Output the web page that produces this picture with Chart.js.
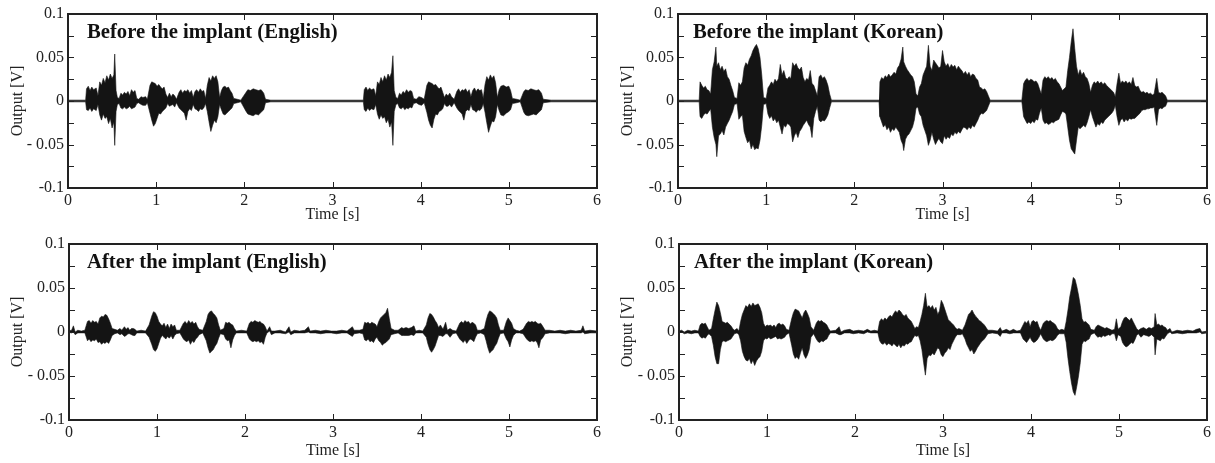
<!DOCTYPE html>
<html><head><meta charset="utf-8">
<script src="https://cdn.jsdelivr.net/npm/chart.js@4.4.1/dist/chart.umd.min.js"></script>
<style>
html,body{margin:0;padding:0;background:#fff;width:1215px;height:463px;overflow:hidden;}
canvas{position:absolute;}
</style></head><body>
<canvas id="c0" width="605" height="225" style="left:0px;top:0px"></canvas>
<canvas id="c1" width="605" height="225" style="left:610px;top:0px"></canvas>
<canvas id="c2" width="605" height="235" style="left:0px;top:228px"></canvas>
<canvas id="c3" width="605" height="235" style="left:610px;top:228px"></canvas>
<script>
// ---------- labels ----------
const panelTitles = ['Before the implant (English)', 'Before the implant (Korean)', 'After the implant (English)', 'After the implant (Korean)'];
const xAxisTitle = 'Time [s]';
const yAxisTitle = 'Output [V]';
const xTicks = [0, 1, 2, 3, 4, 5, 6];
const yTicks = [-0.1, -0.075, -0.05, -0.025, 0, 0.025, 0.05, 0.075, 0.1];
const yTickLabels = ['-0.1', '', '- 0.05', '', '0', '', '0.05', '', '0.1'];

// ---------- waveform envelopes: [time s, upper V, lower V] ----------
const beforeEnglish = [
[0,.001,-.001],[.2,.001,-.001],[.21,.014,-.010],[.23,.017,-.011],[.25,.012,-.008],[.27,.016,-.012],[.29,.013,-.009],[.32,.015,-.011],[.34,.006,-.004],[.36,.022,-.016],[.38,.018,-.022],[.40,.026,-.015],[.42,.021,-.020],[.44,.029,-.018],[.46,.024,-.026],[.48,.031,-.020],[.50,.026,-.031],[.52,.030,-.024],[.53,.054,-.051],[.545,.012,-.012],[.56,.004,-.004],[.58,.003,-.003],[.60,.009,-.008],[.62,.007,-.009],[.64,.010,-.007],[.66,.008,-.009],[.68,.011,-.008],[.70,.006,-.006],[.72,.013,-.009],[.74,.010,-.008],[.76,.012,-.007],[.78,.003,-.003],[.80,.002,-.002],[.83,.005,-.004],[.85,.004,-.005],[.88,.005,-.005],[.90,.002,-.002],[.93,.018,-.014],[.95,.022,-.022],[.97,.021,-.029],[.99,.020,-.026],[1.01,.017,-.020],[1.03,.019,-.014],[1.05,.016,-.015],[1.07,.014,-.012],[1.09,.016,-.010],[1.11,.008,-.008],[1.13,.004,-.003],[1.15,.009,-.006],[1.17,.005,-.005],[1.19,.008,-.004],[1.21,.006,-.007],[1.23,.002,-.002],[1.26,.010,-.008],[1.28,.013,-.010],[1.30,.009,-.012],[1.32,.012,-.014],[1.34,.011,-.022],[1.36,.013,-.012],[1.38,.009,-.009],[1.40,.012,-.011],[1.42,.004,-.004],[1.44,.011,-.009],[1.46,.013,-.010],[1.48,.010,-.012],[1.50,.014,-.009],[1.52,.011,-.010],[1.54,.012,-.008],[1.56,.003,-.003],[1.58,.018,-.012],[1.60,.027,-.024],[1.62,.023,-.035],[1.64,.029,-.028],[1.66,.026,-.022],[1.68,.029,-.025],[1.70,.022,-.018],[1.72,.004,-.004],[1.74,.012,-.010],[1.76,.016,-.015],[1.78,.017,-.016],[1.80,.015,-.014],[1.82,.016,-.012],[1.84,.012,-.010],[1.86,.009,-.008],[1.88,.003,-.003],[1.92,.002,-.002],[1.96,.001,-.001],[2.02,.010,-.012],[2.04,.013,-.015],[2.07,.012,-.016],[2.10,.014,-.017],[2.13,.013,-.015],[2.16,.012,-.016],[2.19,.013,-.013],[2.22,.009,-.010],[2.24,.002,-.002],[2.30,.001,-.001],
[3.35,.001,-.001],[3.36,.013,-.010],[3.38,.016,-.012],[3.40,.012,-.008],[3.42,.015,-.011],[3.44,.013,-.009],[3.47,.014,-.010],[3.49,.006,-.004],[3.51,.022,-.015],[3.53,.019,-.021],[3.55,.027,-.016],[3.57,.022,-.020],[3.59,.029,-.018],[3.61,.024,-.025],[3.63,.031,-.021],[3.65,.027,-.030],[3.67,.033,-.024],[3.685,.052,-.051],[3.70,.012,-.012],[3.72,.004,-.004],[3.74,.003,-.003],[3.76,.009,-.008],[3.78,.007,-.009],[3.80,.011,-.007],[3.82,.009,-.010],[3.84,.013,-.008],[3.86,.010,-.009],[3.88,.012,-.007],[3.90,.011,-.008],[3.92,.003,-.003],[3.95,.002,-.002],[3.98,.005,-.004],[4.01,.004,-.005],[4.04,.002,-.002],[4.07,.018,-.013],[4.09,.022,-.022],[4.11,.021,-.028],[4.13,.020,-.031],[4.15,.018,-.021],[4.17,.019,-.015],[4.19,.016,-.016],[4.21,.014,-.012],[4.23,.016,-.011],[4.25,.010,-.009],[4.27,.004,-.003],[4.29,.008,-.006],[4.31,.006,-.006],[4.33,.009,-.004],[4.35,.005,-.007],[4.38,.002,-.002],[4.41,.011,-.008],[4.43,.014,-.011],[4.45,.010,-.013],[4.47,.013,-.015],[4.49,.012,-.022],[4.51,.014,-.012],[4.53,.010,-.010],[4.55,.013,-.011],[4.57,.005,-.004],[4.59,.012,-.010],[4.61,.015,-.011],[4.63,.011,-.013],[4.65,.014,-.010],[4.67,.012,-.011],[4.69,.013,-.009],[4.71,.003,-.003],[4.73,.019,-.013],[4.75,.028,-.025],[4.77,.024,-.036],[4.79,.030,-.029],[4.81,.026,-.023],[4.83,.029,-.024],[4.85,.021,-.018],[4.87,.004,-.004],[4.89,.013,-.011],[4.91,.017,-.016],[4.94,.018,-.017],[4.97,.016,-.014],[5.00,.017,-.012],[5.02,.012,-.010],[5.04,.003,-.003],[5.09,.002,-.002],[5.13,.001,-.001],[5.17,.011,-.013],[5.19,.013,-.016],[5.22,.012,-.017],[5.25,.014,-.016],[5.28,.013,-.015],[5.31,.012,-.016],[5.34,.013,-.013],[5.37,.009,-.010],[5.39,.002,-.002],[5.48,.001,-.001],[6,.001,-.001]
];

const beforeKorean = [
[0,.001,-.001],[.24,.001,-.001],[.25,.022,-.018],[.27,.018,-.020],[.29,.015,-.016],[.31,.017,-.014],[.33,.013,-.015],[.35,.012,-.012],[.37,.008,-.009],[.39,.036,-.030],[.41,.045,-.042],[.43,.062,-.050],[.44,.040,-.064],[.46,.044,-.040],[.48,.036,-.038],[.50,.040,-.034],[.52,.034,-.039],[.54,.037,-.030],[.56,.028,-.026],[.58,.025,-.022],[.60,.018,-.017],[.62,.012,-.012],[.64,.004,-.004],[.67,.003,-.003],[.69,.021,-.021],[.71,.018,-.018],[.73,.022,-.016],[.75,.038,-.035],[.77,.044,-.042],[.79,.041,-.048],[.81,.048,-.045],[.83,.052,-.055],[.85,.058,-.050],[.87,.062,-.056],[.89,.065,-.054],[.91,.060,-.055],[.93,.050,-.045],[.95,.030,-.028],[.97,.004,-.004],[1.00,.003,-.003],[1.02,.015,-.015],[1.04,.018,-.020],[1.06,.022,-.017],[1.08,.019,-.023],[1.10,.025,-.020],[1.12,.022,-.025],[1.14,.026,-.022],[1.16,.042,-.030],[1.18,.030,-.038],[1.20,.035,-.028],[1.22,.027,-.030],[1.24,.025,-.026],[1.26,.028,-.027],[1.28,.026,-.030],[1.30,.044,-.047],[1.32,.040,-.040],[1.34,.043,-.036],[1.36,.038,-.042],[1.38,.036,-.035],[1.40,.039,-.032],[1.42,.027,-.028],[1.44,.022,-.025],[1.46,.026,-.022],[1.48,.024,-.027],[1.50,.035,-.030],[1.52,.020,-.042],[1.54,.018,-.020],[1.56,.012,-.012],[1.58,.006,-.006],[1.60,.028,-.022],[1.62,.030,-.024],[1.64,.026,-.022],[1.66,.028,-.023],[1.68,.024,-.020],[1.70,.018,-.016],[1.72,.008,-.008],[1.74,.001,-.001],
[2.28,.001,-.001],[2.29,.022,-.018],[2.31,.027,-.024],[2.33,.025,-.030],[2.35,.029,-.027],[2.37,.027,-.033],[2.39,.031,-.030],[2.41,.028,-.036],[2.43,.030,-.032],[2.45,.033,-.034],[2.47,.031,-.030],[2.49,.038,-.033],[2.51,.041,-.036],[2.53,.048,-.045],[2.55,.062,-.050],[2.56,.045,-.057],[2.58,.040,-.044],[2.60,.036,-.040],[2.62,.033,-.038],[2.64,.030,-.034],[2.66,.028,-.030],[2.68,.022,-.022],[2.70,.008,-.008],[2.72,.006,-.007],[2.74,.016,-.015],[2.76,.020,-.018],[2.78,.030,-.028],[2.80,.035,-.034],[2.82,.040,-.040],[2.84,.064,-.051],[2.86,.040,-.045],[2.88,.035,-.036],[2.90,.047,-.044],[2.92,.044,-.050],[2.94,.041,-.046],[2.96,.038,-.043],[2.98,.040,-.047],[3.00,.058,-.049],[3.02,.045,-.040],[3.04,.040,-.044],[3.06,.043,-.041],[3.08,.038,-.043],[3.10,.042,-.038],[3.12,.039,-.040],[3.14,.041,-.036],[3.16,.036,-.038],[3.18,.040,-.035],[3.20,.037,-.037],[3.22,.035,-.033],[3.24,.031,-.030],[3.26,.034,-.031],[3.28,.030,-.033],[3.30,.033,-.030],[3.32,.028,-.032],[3.34,.031,-.028],[3.36,.030,-.030],[3.38,.026,-.026],[3.40,.024,-.022],[3.42,.016,-.017],[3.44,.015,-.014],[3.46,.013,-.015],[3.48,.014,-.013],[3.50,.011,-.011],[3.52,.006,-.006],[3.54,.001,-.001],
[3.90,.001,-.001],[3.92,.020,-.018],[3.94,.024,-.022],[3.96,.026,-.026],[3.98,.023,-.024],[4.00,.025,-.026],[4.02,.024,-.023],[4.04,.022,-.025],[4.06,.023,-.021],[4.08,.020,-.022],[4.10,.014,-.014],[4.12,.008,-.008],[4.14,.024,-.022],[4.16,.028,-.026],[4.18,.026,-.025],[4.20,.028,-.027],[4.22,.025,-.026],[4.24,.027,-.024],[4.26,.024,-.025],[4.28,.026,-.023],[4.30,.022,-.022],[4.32,.020,-.021],[4.34,.016,-.016],[4.36,.012,-.012],[4.38,.014,-.013],[4.40,.016,-.015],[4.42,.035,-.030],[4.44,.050,-.045],[4.46,.068,-.055],[4.48,.083,-.058],[4.50,.060,-.061],[4.52,.040,-.045],[4.54,.030,-.030],[4.56,.036,-.032],[4.58,.030,-.030],[4.60,.033,-.028],[4.62,.028,-.030],[4.64,.026,-.025],[4.66,.020,-.018],[4.68,.010,-.010],[4.70,.018,-.018],[4.72,.022,-.024],[4.74,.020,-.030],[4.76,.023,-.026],[4.78,.020,-.028],[4.80,.022,-.024],[4.82,.019,-.026],[4.84,.021,-.022],[4.86,.018,-.020],[4.88,.016,-.018],[4.90,.014,-.016],[4.92,.012,-.014],[4.94,.010,-.011],[4.96,.005,-.005],[4.98,.020,-.018],[5.00,.032,-.028],[5.02,.020,-.022],[5.04,.023,-.020],[5.06,.021,-.024],[5.08,.023,-.021],[5.10,.020,-.023],[5.12,.022,-.020],[5.14,.019,-.021],[5.16,.027,-.020],[5.18,.018,-.020],[5.20,.016,-.018],[5.22,.017,-.016],[5.24,.012,-.014],[5.26,.010,-.011],[5.28,.011,-.010],[5.30,.009,-.010],[5.32,.010,-.009],[5.34,.008,-.009],[5.36,.009,-.008],[5.38,.007,-.008],[5.40,.008,-.007],[5.43,.026,-.028],[5.45,.010,-.010],[5.47,.009,-.008],[5.49,.010,-.009],[5.51,.008,-.007],[5.53,.006,-.006],[5.55,.001,-.001],[6,.001,-.001]
];

const afterEnglish = [
[0,.0015,-.0005],[.03,.002,-.001],[.05,.007,0],[.07,0,-.003],[.10,.002,-.001],[.14,.001,-.001],[.18,.002,-.001],[.21,.012,-.010],[.23,.013,-.008],[.25,.010,-.011],[.27,.013,-.009],[.29,.011,-.010],[.31,.012,-.008],[.33,.009,-.012],[.35,.016,-.011],[.37,.018,-.014],[.39,.017,-.012],[.41,.020,-.013],[.43,.019,-.011],[.45,.015,-.013],[.47,.010,-.009],[.49,.004,-.004],[.52,.003,-.002],[.55,.002,-.001],[.58,.004,-.003],[.60,.002,-.002],[.63,.006,-.005],[.65,.003,-.004],[.67,.005,-.002],[.69,.002,-.002],[.71,.004,-.003],[.73,.004,-.004],[.75,.003,-.004],[.77,.001,-.001],[.82,.002,-.001],[.87,.001,-.001],[.91,.008,-.006],[.94,.018,-.014],[.96,.023,-.020],[.98,.022,-.022],[1.00,.018,-.019],[1.02,.012,-.013],[1.04,.009,-.007],[1.06,.007,-.004],[1.08,.010,-.006],[1.10,.005,-.008],[1.12,.009,-.005],[1.14,.004,-.007],[1.16,.009,-.004],[1.18,.006,-.008],[1.20,.008,-.004],[1.22,.002,-.002],[1.26,.002,-.001],[1.30,.010,-.008],[1.32,.012,-.010],[1.34,.009,-.011],[1.36,.013,-.009],[1.38,.010,-.014],[1.40,.012,-.010],[1.42,.009,-.012],[1.44,.011,-.008],[1.46,.006,-.006],[1.48,.003,-.003],[1.52,.002,-.001],[1.56,.012,-.010],[1.58,.020,-.018],[1.60,.023,-.024],[1.62,.024,-.022],[1.64,.021,-.020],[1.66,.019,-.016],[1.68,.016,-.013],[1.70,.008,-.007],[1.72,.002,-.002],[1.76,.004,-.003],[1.78,.011,-.008],[1.80,.010,-.010],[1.82,.011,-.009],[1.84,.009,-.018],[1.86,.008,-.009],[1.88,.004,-.004],[1.90,.001,-.001],[1.96,.002,-.001],[2.02,.001,-.001],[2.05,.010,-.008],[2.07,.012,-.010],[2.09,.011,-.011],[2.11,.013,-.010],[2.13,.012,-.011],[2.15,.011,-.010],[2.17,.012,-.012],[2.19,.010,-.011],[2.21,.009,-.014],[2.23,.006,-.006],[2.25,.001,-.001],[2.28,.006,.001],[2.30,.001,-.003],[2.34,.001,-.001],[2.40,.002,-.001],[2.46,0,-.002],[2.50,.006,0],[2.52,0,-.003],[2.56,.002,-.001],[2.62,.001,-.001],[2.68,.002,-.001],[2.72,.006,0],[2.74,.001,-.001],[2.80,.002,-.001],[2.86,.001,-.002],[2.92,.002,-.001],[2.98,.001,-.001],[3.04,.001,-.002],[3.10,.002,-.001],[3.16,.001,-.001],[3.22,.006,-.005],[3.24,.002,-.002],[3.30,.002,-.001],[3.34,.003,-.002],[3.36,.011,-.009],[3.38,.010,-.010],[3.40,.011,-.008],[3.42,.009,-.011],[3.44,.011,-.010],[3.46,.010,-.012],[3.48,.009,-.008],[3.50,.006,-.006],[3.52,.012,-.010],[3.54,.016,-.012],[3.56,.018,-.015],[3.58,.020,-.013],[3.60,.022,-.012],[3.62,.027,-.010],[3.64,.015,-.008],[3.66,.004,-.003],[3.70,.002,-.002],[3.74,.002,-.001],[3.78,.005,-.004],[3.80,.004,-.004],[3.83,.005,-.004],[3.86,.004,-.004],[3.89,.005,-.003],[3.92,.007,-.004],[3.94,.001,-.001],[3.98,.002,-.001],[4.02,.001,-.001],[4.06,.008,-.006],[4.08,.016,-.014],[4.10,.021,-.020],[4.12,.020,-.023],[4.14,.017,-.020],[4.16,.013,-.016],[4.18,.010,-.010],[4.20,.005,-.004],[4.22,.008,-.004],[4.25,.003,-.005],[4.28,.011,-.002],[4.30,.002,-.002],[4.33,.004,-.006],[4.36,.002,-.002],[4.40,.001,-.001],[4.44,.010,-.008],[4.46,.012,-.010],[4.48,.010,-.012],[4.50,.013,-.009],[4.52,.011,-.013],[4.54,.012,-.010],[4.56,.009,-.008],[4.58,.011,-.009],[4.60,.010,-.011],[4.62,.008,-.006],[4.64,.002,-.002],[4.68,.002,-.001],[4.72,.004,-.003],[4.74,.013,-.010],[4.76,.020,-.018],[4.78,.024,-.024],[4.80,.023,-.022],[4.82,.021,-.020],[4.84,.019,-.016],[4.86,.016,-.013],[4.88,.008,-.007],[4.90,.002,-.002],[4.94,.002,-.001],[4.97,.012,-.008],[4.99,.016,-.011],[5.01,.013,-.017],[5.03,.010,-.009],[5.05,.004,-.004],[5.08,.002,-.001],[5.12,.001,-.001],[5.16,.003,-.002],[5.20,.010,-.008],[5.22,.012,-.010],[5.24,.011,-.011],[5.26,.012,-.010],[5.28,.011,-.011],[5.30,.012,-.010],[5.32,.010,-.012],[5.34,.009,-.018],[5.36,.010,-.009],[5.38,.007,-.007],[5.41,.002,-.002],[5.46,.002,-.001],[5.52,.001,-.001],[5.58,.002,-.001],[5.64,.001,-.002],[5.70,.002,-.001],[5.76,.001,-.001],[5.82,.002,-.001],[5.84,.007,0],[5.86,.001,-.002],[5.92,.002,-.001],[6,.001,-.001]
];

const afterKorean = [
[0,.001,-.001],[.03,.002,0],[.06,0,-.002],[.10,.002,-.001],[.14,.001,-.002],[.18,.002,-.001],[.22,.001,-.001],[.24,.008,-.005],[.26,.010,-.007],[.28,.009,-.006],[.30,.010,-.007],[.32,.006,-.004],[.34,.002,-.002],[.37,.004,-.005],[.39,.015,-.015],[.41,.025,-.028],[.43,.034,-.036],[.45,.030,-.036],[.47,.022,-.020],[.49,.012,-.011],[.51,.011,-.010],[.53,.010,-.011],[.55,.011,-.010],[.57,.009,-.009],[.59,.007,-.008],[.61,.004,-.005],[.63,.002,-.002],[.66,.004,-.001],[.68,.001,-.003],[.70,.012,-.010],[.72,.020,-.022],[.74,.025,-.028],[.76,.030,-.032],[.78,.028,-.033],[.80,.032,-.030],[.82,.029,-.036],[.84,.033,-.032],[.86,.030,-.038],[.88,.031,-.033],[.90,.032,-.030],[.92,.028,-.028],[.94,.022,-.022],[.96,.010,-.010],[.98,.006,-.007],[1.00,.008,-.008],[1.02,.007,-.006],[1.04,.008,-.008],[1.06,.006,-.007],[1.08,.008,-.006],[1.10,.005,-.005],[1.12,.009,-.008],[1.14,.010,-.007],[1.16,.008,-.008],[1.18,.009,-.007],[1.20,.007,-.006],[1.22,.003,-.003],[1.25,.002,-.001],[1.28,.015,-.015],[1.30,.022,-.025],[1.32,.026,-.030],[1.34,.025,-.028],[1.36,.024,-.031],[1.38,.020,-.024],[1.40,.016,-.018],[1.42,.022,-.026],[1.44,.025,-.030],[1.46,.021,-.026],[1.48,.016,-.020],[1.50,.006,-.006],[1.53,.002,-.002],[1.56,.010,-.008],[1.58,.013,-.011],[1.60,.012,-.012],[1.62,.013,-.010],[1.64,.011,-.011],[1.66,.010,-.009],[1.68,.008,-.008],[1.70,.004,-.004],[1.72,.001,-.001],[1.78,.002,-.001],[1.82,.006,-.003],[1.84,0,-.003],[1.88,.002,-.001],[1.94,.003,-.001],[1.98,.001,-.002],[2.04,.002,-.001],[2.10,.001,-.002],[2.14,.003,0],[2.18,.001,-.001],[2.22,.002,-.001],[2.26,.001,-.001],[2.28,.012,-.010],[2.30,.015,-.013],[2.32,.013,-.014],[2.34,.016,-.012],[2.36,.014,-.015],[2.38,.017,-.013],[2.40,.019,-.014],[2.42,.017,-.016],[2.44,.021,-.013],[2.46,.024,-.015],[2.48,.022,-.017],[2.50,.025,-.014],[2.52,.023,-.018],[2.54,.020,-.015],[2.56,.018,-.016],[2.58,.020,-.013],[2.60,.016,-.014],[2.62,.014,-.012],[2.64,.012,-.011],[2.66,.008,-.007],[2.68,.004,-.004],[2.70,.006,-.005],[2.72,.005,-.004],[2.74,.012,-.010],[2.76,.020,-.020],[2.78,.030,-.035],[2.80,.044,-.049],[2.82,.028,-.030],[2.84,.030,-.026],[2.86,.027,-.027],[2.88,.030,-.024],[2.90,.025,-.026],[2.92,.028,-.022],[2.94,.020,-.018],[2.96,.024,-.020],[2.98,.036,-.026],[3.00,.032,-.028],[3.02,.026,-.024],[3.04,.020,-.022],[3.06,.014,-.018],[3.08,.012,-.020],[3.10,.010,-.014],[3.12,.008,-.010],[3.14,.005,-.006],[3.16,.003,-.003],[3.18,.004,-.003],[3.20,.003,-.003],[3.22,.002,-.002],[3.25,.008,-.008],[3.27,.014,-.014],[3.29,.020,-.018],[3.31,.022,-.022],[3.33,.025,-.020],[3.35,.021,-.025],[3.37,.018,-.022],[3.39,.016,-.018],[3.41,.013,-.015],[3.43,.012,-.012],[3.45,.010,-.010],[3.47,.008,-.008],[3.49,.005,-.005],[3.51,.002,-.002],[3.56,.002,-.001],[3.62,.001,-.002],[3.65,.005,-.005],[3.67,.001,-.001],[3.72,.003,-.001],[3.76,.001,-.002],[3.80,.003,-.001],[3.84,.001,-.001],[3.88,.002,-.001],[3.91,.008,-.008],[3.93,.012,-.010],[3.95,.010,-.012],[3.97,.013,-.009],[3.99,.006,-.006],[4.01,.012,-.010],[4.03,.013,-.012],[4.05,.011,-.011],[4.07,.012,-.009],[4.09,.006,-.006],[4.11,.002,-.002],[4.14,.010,-.008],[4.16,.012,-.010],[4.18,.013,-.011],[4.20,.012,-.010],[4.22,.013,-.009],[4.24,.011,-.010],[4.26,.010,-.009],[4.28,.008,-.007],[4.30,.004,-.004],[4.32,.002,-.002],[4.35,.003,-.002],[4.38,.002,-.002],[4.40,.012,-.012],[4.42,.025,-.030],[4.44,.040,-.045],[4.46,.050,-.058],[4.48,.062,-.068],[4.50,.060,-.072],[4.52,.052,-.062],[4.54,.042,-.050],[4.56,.030,-.035],[4.58,.015,-.014],[4.60,.011,-.010],[4.62,.012,-.011],[4.64,.010,-.009],[4.66,.008,-.008],[4.68,.003,-.003],[4.72,.002,-.001],[4.74,.006,-.004],[4.76,.008,-.006],[4.78,.007,-.005],[4.80,.006,-.006],[4.82,.005,-.004],[4.84,.004,-.005],[4.86,.005,-.004],[4.88,.004,-.003],[4.90,.003,-.004],[4.92,.002,-.002],[4.95,.003,-.002],[4.97,.015,-.010],[4.99,.003,-.003],[5.02,.006,-.005],[5.04,.012,-.012],[5.06,.016,-.015],[5.08,.017,-.017],[5.10,.015,-.016],[5.12,.013,-.014],[5.14,.016,-.012],[5.16,.012,-.013],[5.18,.008,-.009],[5.20,.004,-.004],[5.22,.002,-.002],[5.25,.004,-.006],[5.28,.005,-.003],[5.31,.003,-.004],[5.34,.005,-.005],[5.37,.004,-.003],[5.40,.006,-.006],[5.41,.021,-.026],[5.43,.008,-.008],[5.45,.009,-.009],[5.47,.007,-.010],[5.49,.008,-.007],[5.51,.006,-.008],[5.53,.005,-.005],[5.55,.002,-.002],[5.58,.004,0],[5.60,0,-.002],[5.66,.002,-.001],[5.72,.001,-.002],[5.78,.002,-.001],[5.84,.001,-.001],[5.88,.003,-.001],[5.92,.004,0],[5.94,0,-.002],[6,.001,-.001]
];

// ---------- layout (positions / sizes kept apart from data) ----------
const panels = [
  {id: 'c0', series: beforeEnglish, title: panelTitles[0], padTop: 14, yWidth: 68, xHeight: 37, xTitlePad: 1, titleDx: 19},
  {id: 'c1', series: beforeKorean,  title: panelTitles[1], padTop: 14, yWidth: 68, xHeight: 37, xTitlePad: 1, titleDx: 15},
  {id: 'c2', series: afterEnglish,  title: panelTitles[2], padTop: 16, yWidth: 69, xHeight: 43, xTitlePad: 3, titleDx: 18},
  {id: 'c3', series: afterKorean,   title: panelTitles[3], padTop: 16, yWidth: 69, xHeight: 43, xTitlePad: 3, titleDx: 15}
];

const INK = '#141414';
const AXIS = '#222';
const FONT = 'Liberation Serif';

const framePlugin = {
  id: 'frame',
  afterDraw(chart, args, opts) {
    const {ctx, chartArea: a, scales: {x, y}} = chart;
    ctx.save();
    ctx.strokeStyle = AXIS;
    ctx.lineWidth = 2;
    ctx.strokeRect(a.left, a.top, a.right - a.left, a.bottom - a.top);
    ctx.lineWidth = 1;
    ctx.beginPath();
    yTicks.forEach(v => {
      const py = Math.round(y.getPixelForValue(v)) + 0.5;
      ctx.moveTo(a.left, py); ctx.lineTo(a.left + 6, py);
      ctx.moveTo(a.right, py); ctx.lineTo(a.right - 6, py);
    });
    xTicks.forEach(v => {
      const px = Math.round(x.getPixelForValue(v)) + 0.5;
      ctx.moveTo(px, a.bottom); ctx.lineTo(px, a.bottom - 6);
      ctx.moveTo(px, a.top); ctx.lineTo(px, a.top + 6);
    });
    ctx.stroke();
    ctx.fillStyle = '#111';
    ctx.font = 'bold 20.7px "' + FONT + '"';
    ctx.textBaseline = 'alphabetic';
    ctx.textAlign = 'left';
    ctx.fillText(opts.title, a.left + opts.dx, a.top + 24);
    ctx.restore();
  }
};

panels.forEach(p => {
  const upper = p.series.map(r => ({x: r[0], y: r[1]}));
  const lower = p.series.map(r => ({x: r[0], y: r[2]}));
  new Chart(document.getElementById(p.id), {
    type: 'line',
    data: {datasets: [
      {data: upper, borderColor: INK, borderWidth: 0.6, pointRadius: 0, fill: false, tension: 0},
      {data: lower, borderColor: INK, borderWidth: 0.6, pointRadius: 0, fill: '-1', backgroundColor: INK, tension: 0}
    ]},
    options: {
      responsive: false, animation: false, events: [],
      layout: {padding: {left: 0, right: 8, top: p.padTop, bottom: 0}},
      plugins: {legend: {display: false}, tooltip: {enabled: false}, frame: {title: p.title, dx: p.titleDx}},
      scales: {
        x: {
          type: 'linear', min: 0, max: 6,
          afterBuildTicks: s => { s.ticks = xTicks.map(v => ({value: v})); },
          afterFit: s => { s.height = p.xHeight; },
          grid: {display: false, drawTicks: false}, border: {display: false},
          ticks: {padding: 3, color: AXIS, autoSkip: false, maxRotation: 0, font: {family: FONT, size: 16}, callback: v => String(v)},
          title: {display: true, text: xAxisTitle, color: AXIS, font: {family: FONT, size: 16}, padding: {top: 0, bottom: p.xTitlePad}}
        },
        y: {
          type: 'linear', min: -0.1, max: 0.1,
          afterBuildTicks: s => { s.ticks = yTicks.map(v => ({value: v})); },
          afterFit: s => { s.width = p.yWidth; },
          grid: {display: false, drawTicks: false}, border: {display: false},
          ticks: {padding: 4, color: AXIS, autoSkip: false, font: {family: FONT, size: 16}, callback: (v, i) => yTickLabels[i]},
          title: {display: true, text: yAxisTitle, color: AXIS, font: {family: FONT, size: 16}, padding: {top: 8, bottom: 0}}
        }
      }
    },
    plugins: [framePlugin]
  });
});
</script>
</body></html>
